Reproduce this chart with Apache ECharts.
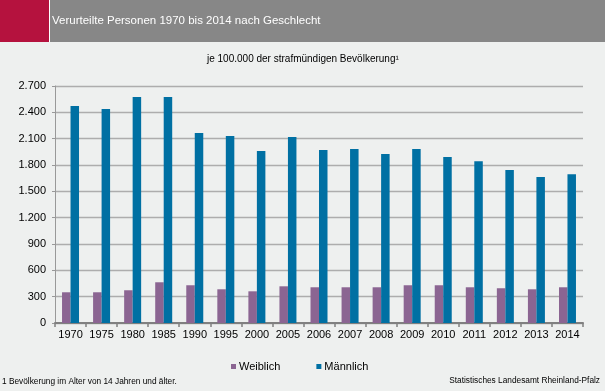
<!DOCTYPE html>
<html>
<head>
<meta charset="utf-8">
<script src="https://cdn.jsdelivr.net/npm/echarts@6/dist/echarts.min.js"></script>
<style>
html,body{margin:0;padding:0;background:#eef0ef;}
#c{width:605px;height:391px;}
</style>
</head>
<body>
<div id="c"></div>
<script>
const categories = ['1970','1975','1980','1985','1990','1995','2000','2005','2006','2007','2008','2009','2010','2011','2012','2013','2014'];
const weiblich = [350,350,373,464,430,384,361,418,407,407,407,430,430,407,396,384,407];
const maennlich = [2472,2438,2575,2575,2164,2130,1959,2118,1970,1981,1924,1981,1890,1844,1742,1662,1696];
const seriesNames = ['Weiblich','Männlich'];
const titleText = 'Verurteilte Personen 1970 bis 2014 nach Geschlecht';
const subtitleText = 'je 100.000 der strafmündigen Bevölkerung¹';
const footLeft = '1 Bevölkerung im Alter von 14 Jahren und älter.';
const footRight = 'Statistisches Landesamt Rheinland-Pfalz';

const FONT = '"Liberation Sans", Arial, sans-serif';
const chart = echarts.init(document.getElementById('c'), null, {renderer:'canvas'});
chart.setOption({
  backgroundColor: '#eef0ef',
  animation: false,
  textStyle: {fontFamily: FONT},
  graphic: [
    {type:'rect', shape:{x:0,y:0,width:49,height:42}, style:{fill:'#b5123e'}},
    {type:'rect', shape:{x:50,y:0,width:555,height:42}, style:{fill:'#878787'}},
    {type:'rect', shape:{x:49,y:0,width:1,height:42}, style:{fill:'#ffffff'}},
    {type:'text', left:52, top:15, style:{text:titleText, fill:'#ffffff', font:'11.5px ' + FONT}},
    {type:'text', left:207, top:54, style:{text:subtitleText, fill:'#000000', font:'10px ' + FONT}},
    {type:'text', left:2, top:378, style:{text:footLeft, fill:'#000000', font:'8.3px ' + FONT}},
    {type:'text', right:5, top:377, style:{text:footRight, fill:'#000000', font:'8.3px ' + FONT}}
  ],
  legend: {
    data: seriesNames,
    left: 226, top: 356,
    itemWidth: 5, itemHeight: 5, itemGap: 36,
    icon: 'rect',
    textStyle: {fontSize: 11, color:'#000', fontFamily: FONT, padding:[0,0,0,-2]}
  },
  grid: {left:55, top:86, width:528, height:237, containLabel:false},
  xAxis: {
    type:'category',
    data: categories,
    boundaryGap: true,
    axisLine: {lineStyle:{color:'#808080', width:2}},
    axisTick: {show:true, length:4, alignWithLabel:false, lineStyle:{color:'#808080', width:1.5}},
    axisLabel: {fontSize:11, color:'#000', margin:6, interval:0, fontFamily: FONT}
  },
  yAxis: {
    type:'value',
    min:0, max:2700, interval:300,
    axisLine: {show:true, lineStyle:{color:'#999', width:1}},
    axisTick: {show:true, length:3, lineStyle:{color:'#999'}},
    axisLabel: {fontSize:11, color:'#000', margin:9, fontFamily: FONT,
      formatter: v => v.toString().replace(/\B(?=(\d{3})+(?!\d))/g, '.')},
    splitLine: {show:true, lineStyle:{color:'#adadad', width:1.3}}
  },
  series: [
    {name:seriesNames[0], type:'bar', data:weiblich, barWidth:8.5, barGap:'0%', itemStyle:{color:'#8b6592'}},
    {name:seriesNames[1], type:'bar', data:maennlich, barWidth:8.5, barGap:'0%', itemStyle:{color:'#0070a3'}}
  ]
});
</script>
</body>
</html>
